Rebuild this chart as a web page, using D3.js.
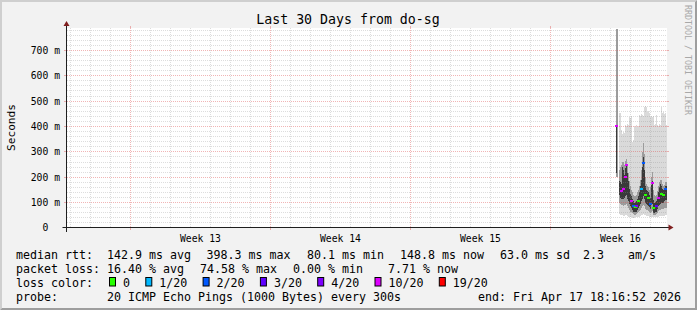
<!DOCTYPE html>
<html><head><meta charset="utf-8">
<script src="https://cdn.jsdelivr.net/npm/d3@7/dist/d3.min.js"></script>
<style>
html,body{margin:0;padding:0;background:#f2f2f2;}
svg{display:block;}
text{font-family:"DejaVu Sans Mono",monospace;white-space:pre;}
</style></head><body>
<svg id="chart" width="697" height="310"></svg>
<script>
// ---------------- data ----------------
const titleText = "Last 30 Days from do-sg";
const yAxisTitle = "Seconds";
const watermarkText = "RRDTOOL / TOBI OETIKER";
const rangeStart = "2026-03-18T19:12:00Z";
const rangeEnd = "2026-04-17T19:12:00Z";
const seriesStart = "2026-04-15T06:36:00Z";
const stepMinutes = 72;
const yMaxMs = 788;
const yTickValues = [0, 100, 200, 300, 400, 500, 600, 700];
const yTickLabels = ["0  ", "100 m", "200 m", "300 m", "400 m", "500 m", "600 m", "700 m"];

// smoke bands, ms, one value per consolidated step
const smokeTop    = [786,786,null,452,452,385,372,380,376,406,400,410,406,438,432,440,340,345,400,396,404,398,400,445,440,448,445,442,478,482,476,458,462,455,438,442,436,440,406,410,445,406,402,408,406,478,452,456,450,452,406];
const upperMid    = [786,786,null,230,240,250,262,262,250,265,270,245,215,185,165,150,140,130,125,128,130,140,150,165,190,230,300,335,290,200,175,165,160,150,160,200,222,150,130,125,130,145,165,180,190,189,175,165,170,180,180];
const coreTop     = [398,null,null,185,180,175,240,230,210,235,250,215,185,155,135,125,115,105,100,102,105,115,125,140,165,190,240,280,230,165,150,145,140,130,120,170,185,110,100,102,105,120,140,160,175,165,155,150,155,165,165];
const coreBottom  = [215,null,null,130,120,115,115,115,120,125,130,115,105,95,85,80,72,65,62,62,65,72,80,88,95,105,115,125,115,100,95,92,88,82,75,90,95,60,60,62,64,75,88,92,95,100,100,100,105,110,110];
const lowerMid    = [200,200,null,100,95,90,90,88,90,90,95,85,80,72,65,62,58,55,52,52,55,58,62,68,72,78,85,90,85,75,72,70,66,62,58,65,68,50,50,52,54,60,66,70,72,75,75,75,78,80,80];
const smokeBottom = [200,200,null,55,50,50,50,48,48,50,50,48,45,45,42,42,40,40,40,42,42,44,45,45,48,50,52,55,52,50,48,48,46,45,44,45,45,42,42,42,43,44,45,46,47,48,48,48,48,50,50];
// median marks visible in the picture (null where none is drawn) and loss per step (of 20)
const medianRtt   = [398,null,null,null,null,143,null,150,null,200,245,null,null,null,null,104,null,84,null,80,86,null,104,null,null,150,null,255,null,130,null,null,117,null,94,null,176,77,null,null,84,null,117,null,null,133,null,130,null,150,null];
const lossCount   = [10,null,null,10,10,10,4,10,10,10,10,4,4,3,4,10,3,2,2,0,4,0,0,1,1,1,2,2,2,0,0,0,0,1,2,10,10,0,0,3,3,4,10,10,0,0,0,0,1,2,1];

const lossThresholds = [0, 1, 2, 3, 4, 10, 19];
const lossLabels = ["0", "1/20", "2/20", "3/20", "4/20", "10/20", "19/20"];
const lossColors = ["#26ff00", "#00b8ff", "#0059ff", "#5e00ff", "#7e00ff", "#dd00ff", "#ff0000"];

const rttLegend = ["median rtt:", "142.9 ms avg", "398.3 ms max", "80.1 ms min", "148.8 ms now", "63.0 ms sd", "2.3", "am/s"];
const lossLegend = ["packet loss:", "16.40 % avg", "74.58 % max", "0.00 % min", "7.71 % now"];
const lossColorTitle = "loss color:";
const probeLegend = ["probe:", "20 ICMP Echo Pings (1000 Bytes) every 300s", "end: Fri Apr 17 18:16:52 2026"];

// ---------------- layout ----------------
const W = 697, H = 310;
const X0 = 66.5, X1 = 666.5, YB = 228, YT = 28;
const svg = d3.select("#chart");

const x = d3.scaleUtc().domain([new Date(rangeStart), new Date(rangeEnd)]).range([X0, X1]);
const y = d3.scaleLinear().domain([0, yMaxMs]).range([YB, YT]);
const snap = v => Math.floor(v) + 0.5;

// 3d border
svg.append("rect").attr("width", W).attr("height", H).attr("fill", "#f2f2f2");
svg.append("path").attr("fill", "#cfcfcf")
  .attr("d", `M0,${H}L2,${H-2}L2,2L${W-2},2L${W},0L0,0Z`);
svg.append("path").attr("fill", "#9e9e9e")
  .attr("d", `M2,${H-2}L${W-2},${H-2}L${W-2},2L${W},0L${W},${H}L0,${H}Z`);

// canvas
svg.append("rect").attr("x", 67).attr("y", YT).attr("width", 600).attr("height", YB - YT).attr("fill", "#ffffff");

// ---------------- smoke ----------------
const t0 = new Date(seriesStart).getTime();
const stepMs = stepMinutes * 60000;
const tAt = i => new Date(t0 + i * stepMs);
const idx = d3.range(smokeTop.length);
const gData = svg.append("g").attr("shape-rendering", "crispEdges");
function band(hiArr, loArr, color) {
  gData.append("g").selectAll("rect")
    .data(idx.filter(i => hiArr[i] != null && loArr[i] != null))
    .join("rect")
    .attr("x", i => x(tAt(i)))
    .attr("width", i => x(tAt(i + 1)) - x(tAt(i)))
    .attr("y", i => y(hiArr[i]))
    .attr("height", i => y(loArr[i]) - y(hiArr[i]))
    .attr("fill", color);
}
band(smokeTop, smokeBottom, "#dadada");
band(upperMid, lowerMid, "#9c9c9c");
band(coreTop, coreBottom, "#3a3a3a");

// ---------------- grid (on top of data like rrdtool) ----------------
const gGrid = svg.append("g");
const minorY = d3.range(20, yMaxMs, 20).filter(v => v % 100 !== 0);
const majorY = yTickValues.filter(v => v > 0);
const gridMinor = "rgba(143,143,143,0.3)";
const gridMajor = "rgba(222,79,79,0.42)";
gGrid.selectAll(".hmin").data(minorY).join("line")
  .attr("x1", 67).attr("x2", X1).attr("y1", v => snap(y(v))).attr("y2", v => snap(y(v)))
  .attr("stroke", gridMinor).attr("stroke-dasharray", "1,1");
gGrid.selectAll(".hmaj").data(majorY).join("line")
  .attr("x1", 67).attr("x2", X1).attr("y1", v => snap(y(v))).attr("y2", v => snap(y(v)))
  .attr("stroke", gridMajor).attr("stroke-dasharray", "1,1");
gGrid.selectAll(".hstub").data(majorY).join("path")
  .attr("d", v => `M${X0-2.5},${snap(y(v))}H${X0}M${X1},${snap(y(v))}H${X1+2.5}`)
  .attr("stroke", gridMajor);

const days = d3.utcDay.range(new Date(rangeStart), new Date(rangeEnd));
const minorX = days.filter(d => d.getUTCDay() !== 0);
const majorX = days.filter(d => d.getUTCDay() === 0);
gGrid.selectAll(".vmin").data(minorX).join("line")
  .attr("x1", d => snap(x(d))).attr("x2", d => snap(x(d))).attr("y1", YT).attr("y2", YB)
  .attr("stroke", gridMinor).attr("stroke-dasharray", "1,1");
gGrid.selectAll(".vmaj").data(majorX).join("line")
  .attr("x1", d => snap(x(d))).attr("x2", d => snap(x(d))).attr("y1", YT).attr("y2", YB)
  .attr("stroke", gridMajor).attr("stroke-dasharray", "1,1");
gGrid.selectAll(".vstub").data(majorX).join("path")
  .attr("d", d => `M${snap(x(d))},${YT-2}V${YT}M${snap(x(d))},${YB}V${YB+2}`)
  .attr("stroke", gridMajor);

// ---------------- median, coloured by loss ----------------
const lossColorOf = l => {
  let c = lossColors[0];
  lossThresholds.forEach((th, k) => { if (l >= th) c = lossColors[k]; });
  return c;
};
svg.append("g").selectAll("line")
  .data(idx.filter(i => medianRtt[i] != null))
  .join("line")
  .attr("x1", i => x(tAt(i))).attr("x2", i => x(tAt(i + 1)))
  .attr("y1", i => snap(y(medianRtt[i])) - 0.5).attr("y2", i => snap(y(medianRtt[i])) - 0.5)
  .attr("stroke", i => lossColorOf(lossCount[i])).attr("stroke-width", 2)
  .attr("stroke-linecap", "square");

// ---------------- axes ----------------
const axisCol = "#1f1f1f";
const yAx = YB - 0.5;
svg.append("line").attr("x1", X0 - 4).attr("x2", X1 + 4).attr("y1", yAx).attr("y2", yAx).attr("stroke", axisCol);
svg.append("line").attr("x1", X0).attr("x2", X0).attr("y1", YB + 4).attr("y2", YT - 4).attr("stroke", axisCol);
svg.append("path").attr("fill", "#801f1f")
  .attr("d", `M${X1+2},${yAx-3}L${X1+2},${yAx+3}L${X1+7},${yAx}Z`);
svg.append("path").attr("fill", "#801f1f")
  .attr("d", `M${X0-3},${YT-2}L${X0+3},${YT-2}L${X0},${YT-7}Z`);

// y tick labels
svg.append("g").selectAll("text").data(yTickValues).join("text")
  .attr("x", 60).attr("y", v => (v === 0 ? yAx : snap(y(v))) + 3.6)
  .attr("text-anchor", "end").attr("font-size", "9.72px").attr("fill", "#000")
  .text((v, k) => yTickLabels[k]);

// week labels (middle of each Sunday-started week)
const weekMids = majorX.map(d => new Date(d.getTime() + 3.5 * 86400000)).filter(d => x(d) < X1);
const fmtWeek = d3.utcFormat("%V");
svg.append("g").selectAll("text").data(weekMids).join("text")
  .attr("x", d => x(d)).attr("y", 241.5).attr("text-anchor", "middle")
  .attr("font-size", "9.72px").attr("fill", "#000")
  .text(d => "Week " + (+fmtWeek(d)));

// titles
svg.append("text").attr("x", 348).attr("y", 24).attr("text-anchor", "middle")
  .attr("font-size", "13.25px").attr("fill", "#000").text(titleText);
svg.append("text").attr("transform", "translate(15,127.5) rotate(-90)")
  .attr("text-anchor", "middle").attr("font-size", "11.1px").attr("fill", "#000").text(yAxisTitle);
svg.append("text").attr("transform", "translate(685,5) rotate(90)")
  .attr("text-anchor", "start").attr("font-size", "8.3px").attr("fill", "#a8a8a8").text(watermarkText);

// ---------------- legend ----------------
const lf = "11.63px";
const rttX = [16, 107, 206.5, 307, 400, 500, 583, 628];
const lossX = [16, 107, 200, 293, 388];
const probeX = [16, 107, 478];
function legendRow(items, xs, yb) {
  items.forEach((s, k) => svg.append("text").attr("x", xs[k]).attr("y", yb)
    .attr("font-size", lf).attr("fill", "#000").text(s));
}
legendRow(rttLegend, rttX, 258.5);
legendRow(lossLegend, lossX, 272.5);
legendRow(probeLegend, probeX, 300.5);
svg.append("text").attr("x", 16).attr("y", 286.5).attr("font-size", lf).attr("fill", "#000").text(lossColorTitle);
let bx = 109;
lossLabels.forEach((lab, k) => {
  svg.append("rect").attr("x", bx + 0.5).attr("y", 277.5).attr("width", 6).attr("height", 8.5)
    .attr("fill", lossColors[k]).attr("stroke", "#000").attr("stroke-width", 1);
  const tx = svg.append("text").attr("x", bx + 14).attr("y", 286.5).attr("font-size", lf).attr("fill", "#000").text(lab);
  const w = tx.node().getComputedTextLength();
  bx = bx + 14 + w + 15.3;
});
</script>
</body></html>
